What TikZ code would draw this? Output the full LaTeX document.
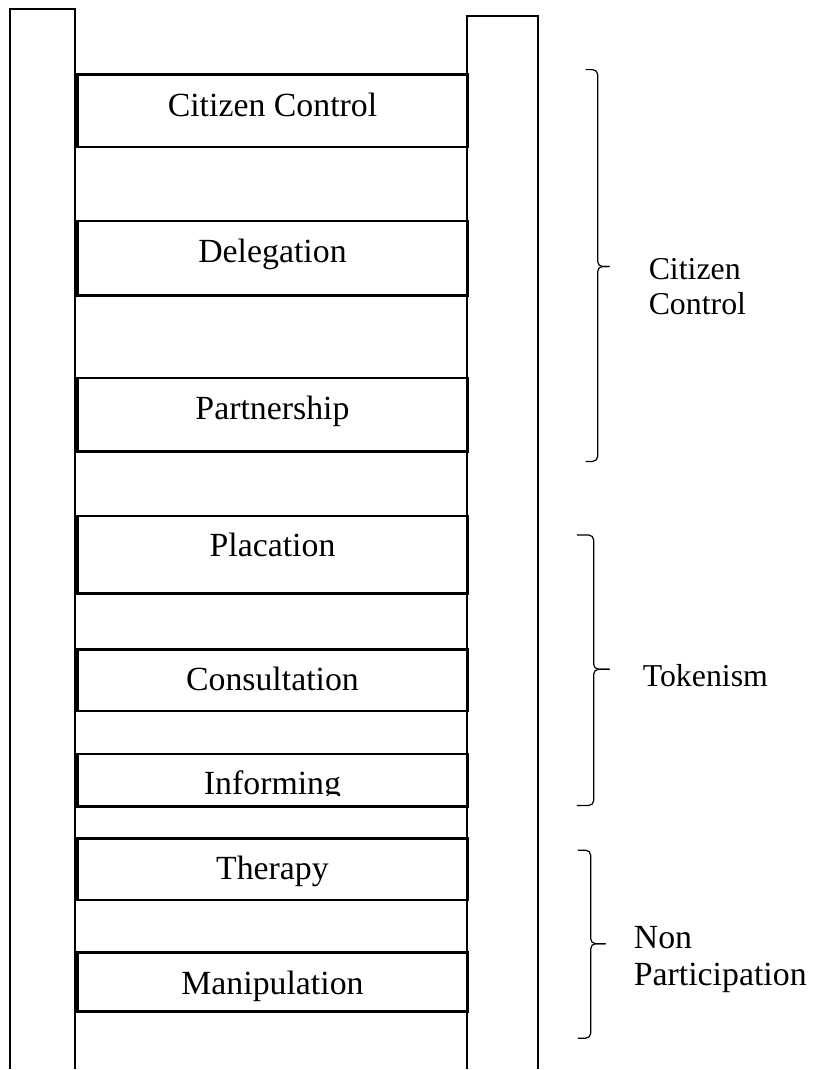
\documentclass[tikz,border=0pt]{standalone}
\usepackage{fontspec}
\setmainfont{Liberation Serif}
\begin{document}
\begin{tikzpicture}[x=0.5pt, y=-0.5pt,
  rail/.style={line width=1pt},
  rung/.style={line width=1.2pt},
  rungtext/.style={anchor=base, inner sep=0pt, font=\fontsize{17}{20}\selectfont},
  grouptext/.style={anchor=west, align=left, inner sep=0pt, font=\fontsize{16}{17.5}\selectfont},
  bracket/.style={line width=0.6pt, rounded corners=2.5pt}]
\def\Bracket#1#2#3#4#5#6{
\draw[bracket] (#3,#5) -| (#2,#4) -- (#1,#4);
\draw[bracket] (#3,#5) -| (#2,#6) -- (#1,#6);
}
\fill[white] (0,0) rectangle (820,1070);

\draw[rail] (10,1075) |- (75,9) -- (75,1075);
\draw[rail] (470,1075) |- (541,16) -- (541,1075);

\foreach \nm/\ya/\yb/\yt/\txt in {cc/75/148/117/Citizen Control,
  deleg/222/297/264/Delegation, partner/380/454/422/Partnership,
  plac/519/597/560/Placation, consult/653/715/694/Consultation,
  therapy/843/905/884/Therapy, manip/958/1017/1000/Manipulation}
{
  \draw[rung] (78,\ya) rectangle (470,\yb);
  \node[rungtext] (\nm) at (274,\yt) {\txt};
}
\draw[rung] (78,758) rectangle (470,811);
\begin{scope}
\clip (78,758) rectangle (470,800);
\node[rungtext] (inform) at (274,799) {Informing};
\end{scope}

\Bracket{589}{601}{613}{70}{268}{464}
\Bracket{580}{597}{613}{538}{673}{810}
\Bracket{581}{594}{609}{855}{949}{1044}

\node[grouptext] (ctrl) at (652,288) {Citizen\\Control};
\node[grouptext, anchor=base west] (token) at (646,690) {Tokenism};
\node[grouptext, font=\fontsize{17}{19}\selectfont] (nonpart) at (637,965) {Non\\Participation};
\end{tikzpicture}
\end{document}
